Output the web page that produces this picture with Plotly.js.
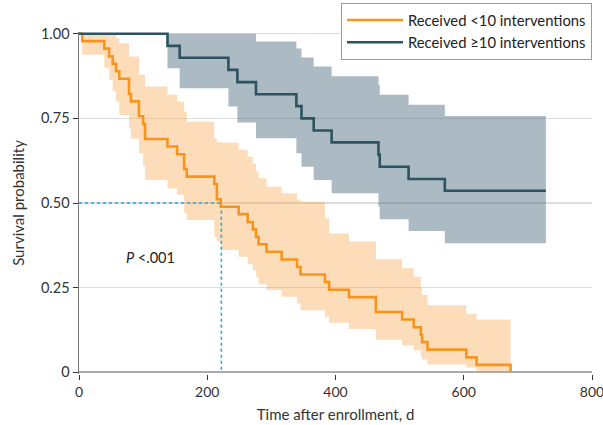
<!DOCTYPE html>
<html>
<head>
<meta charset="utf-8">
<script src="https://cdn.plot.ly/plotly-3.0.1.min.js"></script>
<style>html,body{margin:0;padding:0;background:#fff;}#chart{width:603px;height:425px;}</style>
</head>
<body>
<div id="chart"></div>
<script>
// Group: received <10 interventions
const orangeDays  = [0,5,39.5,47,52.5,57.7,62.9,78,81,93.5,100,103,138,153,164,168,211,215,221,249,263,271,276,280,292.5,316,340,345.5,383.5,390,421,463,504,522,533,535,543.5,604,620,673];
const orangeSurv  = [1,0.978,0.956,0.933,0.911,0.889,0.867,0.822,0.8,0.756,0.733,0.689,0.667,0.644,0.6,0.578,0.556,0.511,0.489,0.467,0.444,0.422,0.4,0.378,0.356,0.333,0.311,0.289,0.267,0.244,0.222,0.178,0.156,0.133,0.111,0.089,0.067,0.044,0.022,0];
const orangeUpper = [1,1,1,1,1,0.987,0.972,0.933,0.933,0.879,0.879,0.844,0.82,0.80,0.77,0.74,0.69,0.68,0.678,0.657,0.637,0.617,0.593,0.573,0.548,0.529,0.51,0.504,0.455,0.41,0.386,0.334,0.307,0.282,0.25,0.228,0.198,0.172,0.156,0.156];
const orangeLower = [1,0.938,0.90,0.864,0.829,0.80,0.76,0.72,0.69,0.647,0.61,0.568,0.543,0.524,0.47,0.45,0.40,0.386,0.361,0.341,0.32,0.302,0.282,0.26,0.243,0.223,0.203,0.183,0.164,0.146,0.128,0.096,0.08,0.065,0.05,0.038,0.023,0.014,0.002,0.002];

// Group: received >=10 interventions
const darkDays  = [0,138,157,233,247,276,339,347,366,394,467,469,514,570.5,728];
const darkSurv  = [1,0.964,0.929,0.893,0.857,0.821,0.786,0.75,0.714,0.679,0.643,0.607,0.571,0.536,0.536];
const darkUpper = [1,1,1,1,1,0.977,0.956,0.93,0.903,0.874,0.849,0.82,0.79,0.757,0.757];
const darkLower = [1,0.898,0.839,0.785,0.738,0.691,0.647,0.607,0.568,0.529,0.489,0.452,0.417,0.381,0.381];

// Median survival marker (<10 group)
const medianDay = 222;
const medianSurv = 0.5;

const seriesNames = ['Received <10 interventions', 'Received \u226510 interventions'];
const xTicks = [0, 200, 400, 600, 800];
const yTicks = [0, 0.25, 0.5, 0.75, 1];
const yTickText = ['0', '0.25', '0.50', '0.75', '1.00'];
const pText = '<i>P</i> <.001';

const ORANGE = 'rgb(247,148,29)';
const DARK = 'rgb(44,83,96)';
const FONT = 'Lato, Liberation Sans, Arial, sans-serif';

const traces = [
  {x: orangeDays, y: orangeUpper, mode: 'lines', line: {shape: 'hv', width: 0, color: 'rgba(0,0,0,0)'}, showlegend: false, hoverinfo: 'skip'},
  {x: orangeDays, y: orangeLower, mode: 'lines', line: {shape: 'hv', width: 0, color: 'rgba(0,0,0,0)'}, fill: 'tonexty', fillcolor: 'rgba(250,160,60,0.36)', showlegend: false, hoverinfo: 'skip'},
  {x: darkDays, y: darkUpper, mode: 'lines', line: {shape: 'hv', width: 0, color: 'rgba(0,0,0,0)'}, showlegend: false, hoverinfo: 'skip'},
  {x: darkDays, y: darkLower, mode: 'lines', line: {shape: 'hv', width: 0, color: 'rgba(0,0,0,0)'}, fill: 'tonexty', fillcolor: 'rgba(60,95,115,0.43)', showlegend: false, hoverinfo: 'skip'},
  {x: [0, medianDay, medianDay], y: [medianSurv, medianSurv, 0], mode: 'lines', line: {color: 'rgb(20,175,235)', width: 1.6, dash: 'dot'}, showlegend: false, hoverinfo: 'skip'},
  {x: orangeDays, y: orangeSurv, mode: 'lines', name: seriesNames[0], line: {shape: 'hv', color: ORANGE, width: 2.6}},
  {x: darkDays, y: darkSurv, mode: 'lines', name: seriesNames[1], line: {shape: 'hv', color: DARK, width: 2.6}}
];

const layout = {
  width: 603, height: 425,
  margin: {l: 79, r: 11, t: 32, b: 51, autoexpand: false},
  paper_bgcolor: '#fff', plot_bgcolor: '#fff',
  font: {family: FONT, size: 14, color: '#333'},
  showlegend: true,
  legend: {x: 1, xanchor: 'right', y: 1.085, yanchor: 'top', bgcolor: '#fff', bordercolor: '#999', borderwidth: 1,
           font: {family: FONT, size: 14.8, color: '#222'}, tracegroupgap: 0, traceorder: 'normal', itemwidth: 56},
  xaxis: {range: [0, 800], tickvals: xTicks, showgrid: false, zeroline: false, showline: false, ticklabeloverflow: 'allow',
          ticks: 'outside', ticklen: 5, tickcolor: '#333', tickwidth: 1, tickfont: {family: FONT, size: 14, color: '#333'},
          title: {text: 'Time after enrollment, d', font: {family: FONT, size: 15, color: '#333'}, standoff: 10}},
  yaxis: {range: [-0.005, 1.005], tickvals: yTicks, ticktext: yTickText, showgrid: true, gridcolor: '#ddd', gridwidth: 1.5,
          zeroline: true, zerolinecolor: '#aaa', zerolinewidth: 2, showline: true, linecolor: '#777', linewidth: 1.5,
          ticks: 'outside', ticklen: 5, tickcolor: '#333', tickwidth: 1, tickfont: {family: FONT, size: 14.5, color: '#333'},
          title: {text: 'Survival probability', font: {family: FONT, size: 15, color: '#333'}, standoff: 12}},
  annotations: [{x: 111, y: 0.34, xref: 'x', yref: 'y', text: pText, showarrow: false, font: {family: FONT, size: 14.5, color: '#222'}}]
};

Plotly.newPlot('chart', traces, layout, {displayModeBar: false, staticPlot: true});
</script>
</body>
</html>
